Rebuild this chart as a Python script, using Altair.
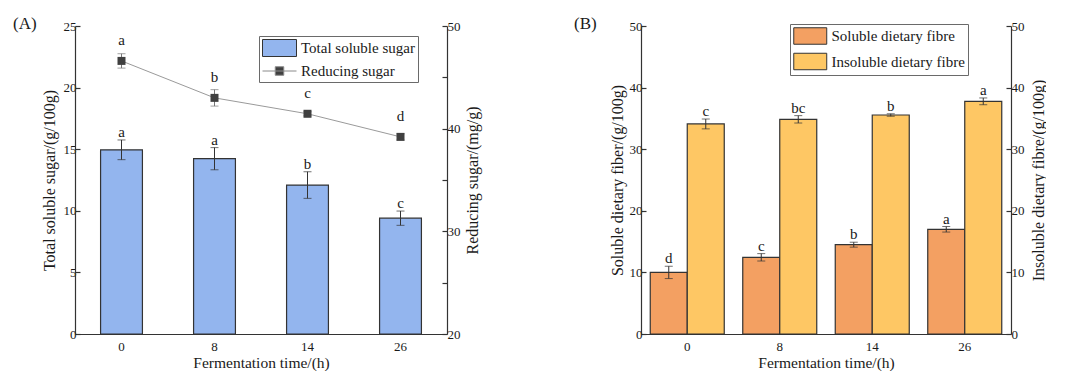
import altair as alt
import pandas as pd

# ---------------- data ----------------
times = ["0", "8", "14", "26"]

tss = [14.95, 14.23, 12.09, 9.40]
tss_err = [0.80, 0.90, 1.08, 0.58]
tss_letters = ["a", "a", "b", "c"]

rs = [46.6, 43.0, 41.45, 39.2]
rs_err = [0.7, 0.8, 0.2, 0.3]
rs_letters = ["a", "b", "c", "d"]

sdf = [10.0, 12.45, 14.5, 17.0]
sdf_err = [1.0, 0.6, 0.4, 0.45]
sdf_letters = ["d", "c", "b", "a"]

idf = [34.1, 34.85, 35.55, 37.77]
idf_err = [0.8, 0.6, 0.2, 0.55]
idf_letters = ["c", "bc", "b", "a"]

series_a = ["Total soluble sugar", "Reducing sugar"]
series_b = ["Soluble dietary fibre", "Insoluble dietary fibre"]
panel_labels = ["(A)", "(B)"]

# ---------------- style ----------------
FONT = "Liberation Serif"
BLUE = "#93B5EE"
ORANGE = "#F3A062"
YELLOW = "#FEC764"
DARK = "#333333"
TXT = "#1a1a1a"
RECT_PATH = "M-1,-1H3V1H-1Z"
LINE_PATH = "M-1,0H3M0.5,-0.5H1.5V0.5H0.5Z"
INWARD = {"expr": "-5"}

# ---------------- tables ----------------
dfa = pd.DataFrame({
    "t": times,
    "tss": tss,
    "tss_lo": [v - e for v, e in zip(tss, tss_err)],
    "tss_hi": [v + e for v, e in zip(tss, tss_err)],
    "tss_l": tss_letters,
    "rs": rs,
    "rs_lo": [v - e for v, e in zip(rs, rs_err)],
    "rs_hi": [v + e for v, e in zip(rs, rs_err)],
    "rs_l": rs_letters,
})

rows = []
for s, vals, errs, lets in [(series_b[0], sdf, sdf_err, sdf_letters),
                            (series_b[1], idf, idf_err, idf_letters)]:
    for t, v, e, l in zip(times, vals, errs, lets):
        rows.append({"t": t, "series": s, "v": v, "lo": v - e, "hi": v + e, "letter": l})
dfb = pd.DataFrame(rows)

# ---------------- panel A ----------------
xA = alt.X("t:N", sort=times,
           scale=alt.Scale(paddingInner=0.55, paddingOuter=0.275),
           axis=alt.Axis(title="Fermentation time/(h)", labelAngle=0, ticks=False,
                         labelPadding=6, titlePadding=2, titleFontSize=15.5))

yA_left_scale = alt.Scale(domain=[0, 25], nice=False, zero=True)
yA_left_axis = alt.Axis(title="Total soluble sugar/(g/100g)", values=[0, 5, 10, 15, 20, 25],
                        tickSize=INWARD, labelPadding=4, titlePadding=6)

baseA = alt.Chart(dfa)
bars_a = baseA.mark_bar(fill=BLUE, stroke=DARK, strokeWidth=1.2).encode(
    x=xA, y=alt.Y("tss:Q", scale=yA_left_scale, axis=yA_left_axis))
err_a = baseA.mark_rule(color=DARK, strokeWidth=1).encode(
    x=xA, y=alt.Y("tss_lo:Q", scale=yA_left_scale), y2="tss_hi:Q")
cap_a1 = baseA.mark_tick(color=DARK, size=8, thickness=1).encode(
    x=xA, y=alt.Y("tss_lo:Q", scale=yA_left_scale))
cap_a2 = baseA.mark_tick(color=DARK, size=8, thickness=1).encode(
    x=xA, y=alt.Y("tss_hi:Q", scale=yA_left_scale))
let_a = baseA.mark_text(font=FONT, fontSize=15, color=TXT, baseline="alphabetic", dy=-3).encode(
    x=xA, y=alt.Y("tss_hi:Q", scale=yA_left_scale), text="tss_l:N")
left_a = alt.layer(bars_a, err_a, cap_a1, cap_a2, let_a)

yA_right_scale = alt.Scale(domain=[20, 50], nice=False, zero=False)
yA_right_axis = alt.Axis(title="Reducing sugar/(mg/g)", orient="right",
                         values=[20, 25, 30, 35, 40, 45, 50],
                         labelExpr="datum.value % 10 === 0 ? datum.label : ''",
                         tickSize=INWARD, labelPadding=5, titlePadding=4,
                         titleAngle=270, titleBaseline="top")
line_a = baseA.mark_line(color="#9a9a9a", strokeWidth=1).encode(
    x=xA, y=alt.Y("rs:Q", scale=yA_right_scale, axis=yA_right_axis))
rerr_a = baseA.mark_rule(color="#777777", strokeWidth=1).encode(
    x=xA, y=alt.Y("rs_lo:Q", scale=yA_right_scale), y2="rs_hi:Q")
rcap1 = baseA.mark_tick(color="#777777", size=8, thickness=1).encode(
    x=xA, y=alt.Y("rs_lo:Q", scale=yA_right_scale))
rcap2 = baseA.mark_tick(color="#777777", size=8, thickness=1).encode(
    x=xA, y=alt.Y("rs_hi:Q", scale=yA_right_scale))
pts_a = baseA.mark_square(size=64, color="#404040", opacity=1).encode(
    x=xA, y=alt.Y("rs:Q", scale=yA_right_scale))
rlet_a = baseA.mark_text(font=FONT, fontSize=15, color=TXT, baseline="alphabetic", dy=-16).encode(
    x=xA, y=alt.Y("rs:Q", scale=yA_right_scale), text="rs_l:N")
right_a = alt.layer(line_a, rerr_a, rcap1, rcap2, pts_a, rlet_a)

legA = alt.Legend(title=None, orient="none", legendX=184, legendY=10,
                  strokeColor="#6a6a6a", padding=3, symbolSize=289, symbolOpacity=1,
                  symbolStrokeWidth=1, labelFont=FONT, labelFontSize=15, labelColor=TXT,
                  labelOffset=21, rowPadding=3, fillColor="white")
leg_layer_a = alt.Chart(pd.DataFrame({"series": series_a})).mark_point(
    filled=True, opacity=0).encode(
    fill=alt.Fill("series:N", sort=series_a,
                  scale=alt.Scale(domain=series_a, range=[BLUE, "#404040"]), legend=legA),
    shape=alt.Shape("series:N", sort=series_a,
                    scale=alt.Scale(domain=series_a, range=[RECT_PATH, LINE_PATH]), legend=legA),
    stroke=alt.Stroke("series:N", sort=series_a,
                      scale=alt.Scale(domain=series_a, range=[DARK, "#8a8a8a"]), legend=legA),
)

lab_a = alt.Chart(pd.DataFrame({"p": [panel_labels[0]]})).mark_text(
    font=FONT, fontSize=17, color=TXT, align="left", baseline="middle").encode(
    text="p:N", x=alt.value(-62), y=alt.value(-2))

panelA = alt.layer(left_a, right_a, leg_layer_a, lab_a).resolve_scale(y="independent").properties(
    width=372, height=308)

# ---------------- panel B ----------------
xB = alt.X("t:N", sort=times,
           scale=alt.Scale(paddingInner=0.2, paddingOuter=0.1),
           axis=alt.Axis(title="Fermentation time/(h)", labelAngle=0, ticks=False,
                         labelPadding=6, titlePadding=2, titleFontSize=15.5))
xoB = alt.XOffset("series:N", sort=series_b, scale=alt.Scale(paddingInner=0, paddingOuter=0))
yB_scale = alt.Scale(domain=[0, 50], nice=False)
yB_left_axis = alt.Axis(title="Soluble dietary fiber/(g/100g)", values=[0, 10, 20, 30, 40, 50],
                        tickSize=INWARD, labelPadding=4, titlePadding=4)
yB_right_axis = alt.Axis(title="Insoluble dietary fibre/(g/100g)", orient="right",
                         values=[0, 10, 20, 30, 40, 50],
                         tickSize=INWARD, labelPadding=5, titlePadding=6,
                         titleAngle=270, titleBaseline="top")

legB = alt.Legend(title=None, orient="none", legendX=149, legendY=-2,
                  strokeColor="#6a6a6a", padding=3, symbolType=RECT_PATH, symbolSize=272,
                  symbolStrokeColor=DARK, symbolStrokeWidth=1, symbolOpacity=1,
                  labelFont=FONT, labelFontSize=15, labelColor=TXT,
                  labelOffset=20.5, rowPadding=3.5, fillColor="white")

baseB = alt.Chart(dfb)
bars_b = baseB.mark_bar(stroke=DARK, strokeWidth=1.2).encode(
    x=xB, xOffset=xoB,
    y=alt.Y("v:Q", scale=yB_scale, axis=yB_left_axis),
    fill=alt.Fill("series:N", sort=series_b,
                  scale=alt.Scale(domain=series_b, range=[ORANGE, YELLOW]), legend=legB))
err_b = baseB.mark_rule(color=DARK, strokeWidth=1).encode(
    x=xB, xOffset=xoB, y=alt.Y("lo:Q", scale=yB_scale), y2="hi:Q")
cap_b1 = baseB.mark_tick(color=DARK, size=8, thickness=1).encode(
    x=xB, xOffset=xoB, y=alt.Y("lo:Q", scale=yB_scale))
cap_b2 = baseB.mark_tick(color=DARK, size=8, thickness=1).encode(
    x=xB, xOffset=xoB, y=alt.Y("hi:Q", scale=yB_scale))
left_b = alt.layer(bars_b, err_b, cap_b1, cap_b2)
let_b = baseB.mark_text(font=FONT, fontSize=15, color=TXT, baseline="alphabetic", dy=-3).encode(
    x=xB, xOffset=xoB, y=alt.Y("hi:Q", scale=yB_scale, axis=yB_right_axis), text="letter:N")

lab_b = alt.Chart(pd.DataFrame({"p": [panel_labels[1]]})).mark_text(
    font=FONT, fontSize=17, color=TXT, align="left", baseline="middle").encode(
    text="p:N", x=alt.value(-67), y=alt.value(-2))

panelB = alt.layer(left_b, let_b, lab_b).resolve_scale(y="independent").properties(
    width=370, height=308)

chart = alt.hconcat(panelA, panelB, spacing=94).resolve_scale(
    fill="independent", shape="independent", stroke="independent"
).resolve_legend(
    fill="independent", shape="independent", stroke="independent"
).properties(
    padding={"left": 5, "top": 7, "right": 0, "bottom": 0}
).configure_axis(
    labelFont=FONT, titleFont=FONT, labelFontSize=13, titleFontSize=16,
    titleFontWeight="normal", labelColor=TXT, titleColor=TXT,
    domainColor=DARK, tickColor=DARK, domainWidth=1.2, tickWidth=1.2, grid=False
).configure_view(stroke=None)

chart.save("out.html", embed_options={"renderer": "svg", "actions": False})
